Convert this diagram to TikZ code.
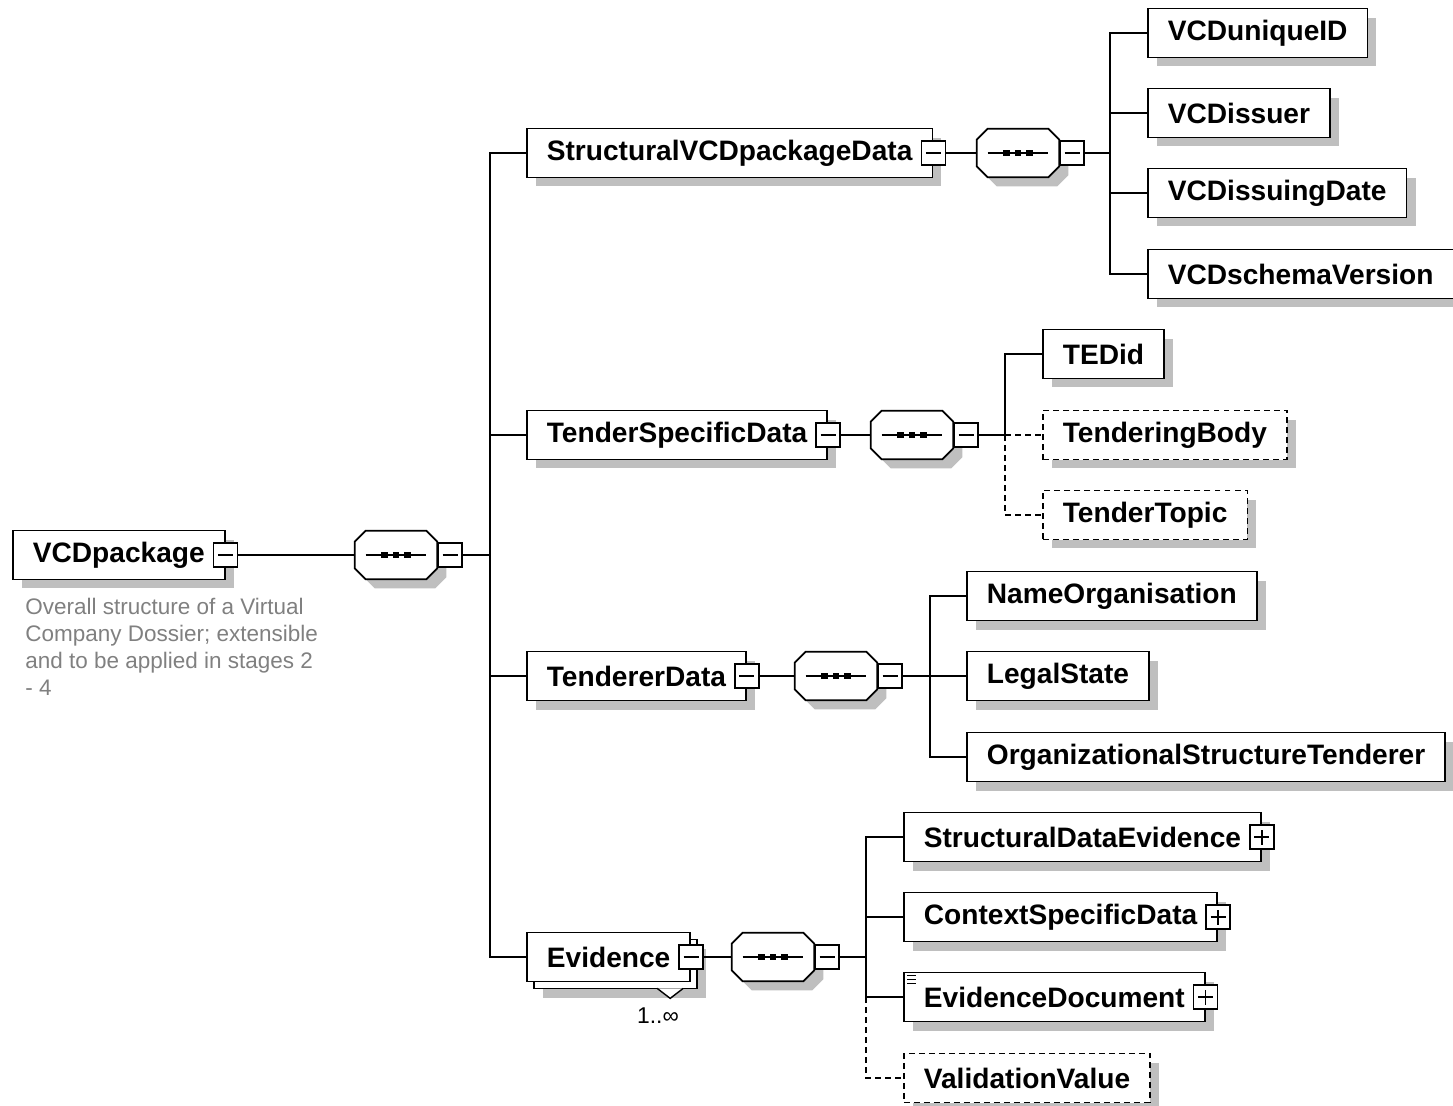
\documentclass[tikz,border=0pt]{standalone}
\usepackage{fontspec}
\setmainfont{Liberation Sans}
\usetikzlibrary{shadows}
\newcommand{\tg}{\hspace{0.22cm}}
% octagon round a node, chamfer 2.2mm
\newcommand{\octpath}[1]{([xshift=2.2mm]#1.north west) -- ([xshift=-2.2mm]#1.north east) -- ([yshift=-2.2mm]#1.north east) -- ([yshift=2.2mm]#1.south east) -- ([xshift=-2.2mm]#1.south east) -- ([xshift=2.2mm]#1.south west) -- ([yshift=2.2mm]#1.south west) -- ([yshift=-2.2mm]#1.north west) -- cycle}

\begin{document}
\begin{tikzpicture}[x=0.02cm,y=-0.02cm,
	box/.style={draw,fill=white,line width=1pt,anchor=west,minimum height=0.98cm,inner xsep=0.4cm,inner ysep=0pt,font=\fontsize{16}{19}\selectfont\bfseries},
	elem/.style={box,drop shadow={shadow xshift=0.18cm,shadow yshift=-0.18cm,fill=black!25,opacity=1}},
	optelem/.style={elem,dash pattern=on 3.4pt off 2.3pt},
	elemstack/.style={box,drop shadow={shadow xshift=0.32cm,shadow yshift=-0.32cm,fill=black!25,opacity=1},copy shadow={shadow xshift=0.14cm,shadow yshift=-0.14cm}},
	seq/.style={minimum width=1.64cm,minimum height=0.96cm,inner sep=0pt,
		append after command={\pgfextra{
			\fill[black!25,transform canvas={shift={(0.18cm,-0.18cm)}}] \octpath{\tikzlastnode};
			\draw[fill=white,line width=1pt] \octpath{\tikzlastnode};
			\draw[line width=1pt] ([xshift=2.2mm]\tikzlastnode.west) -- ([xshift=-2.2mm]\tikzlastnode.east);
			\foreach \d in {-2.3,0,2.3}
				\fill[black] ([shift={(\d mm-0.65mm,-0.65mm)}]\tikzlastnode.center) rectangle +(1.3mm,1.3mm);
		}}},
	toggle/.style={draw,fill=white,line width=0.9pt,minimum size=0.48cm,inner sep=0pt},
	collapse/.style={toggle,path picture={
			\draw[line width=0.9pt] ([xshift=0.09cm]path picture bounding box.west) -- ([xshift=-0.09cm]path picture bounding box.east);}},
	expand/.style={toggle,path picture={
			\draw[line width=0.9pt] ([xshift=0.09cm]path picture bounding box.west) -- ([xshift=-0.09cm]path picture bounding box.east);
			\draw[line width=0.9pt] ([yshift=0.09cm]path picture bounding box.south) -- ([yshift=-0.09cm]path picture bounding box.north);}},
	link/.style={line width=0.9pt},
	optlink/.style={link,dash pattern=on 3.4pt off 2.3pt}]
	\useasboundingbox (0,0) rectangle (1453,1105);

	% root
	\node[elem](vcd) at (12,555){VCDpackage\tg};
	\node[collapse](vcdT) at (vcd.east){};
	\node[seq](seq0) at (396,555){};
	\node[collapse,anchor=west](seq0T) at (seq0.east){};
	\coordinate(bus0) at (490,555);
	\node[anchor=north west,align=left,inner sep=0pt,text=black!50,font=\fontsize{12.8}{15.3}\selectfont](note) at (25,598){Overall structure of a Virtual\\Company Dossier; extensible\\and to be applied in stages 2\\- 4};

	% StructuralVCDpackageData
	\node[elem](svd) at (526,153){StructuralVCDpackageData\tg};
	\node[collapse](svdT) at (svd.east){};
	\node[seq](seq1) at (1018,153){};
	\node[collapse,anchor=west](seq1T) at (seq1.east){};
	\coordinate(bus1) at (1110,153);
	\node[elem](uid) at (1147,33){VCDuniqueID};
	\node[elem](iss) at (1147,113){VCDissuer};
	\node[elem](idate) at (1147,193){VCDissuingDate};
	\node[elem](ver) at (1147,274){VCDschemaVersion};

	% TenderSpecificData
	\node[elem](tsd) at (526,435){TenderSpecificData\tg};
	\node[collapse](tsdT) at (tsd.east){};
	\node[seq](seq2) at (912,435){};
	\node[collapse,anchor=west](seq2T) at (seq2.east){};
	\coordinate(bus2) at (1005,435);
	\node[elem](tedid) at (1042,354){TEDid};
	\node[optelem](tbody) at (1042,435){TenderingBody};
	\node[optelem](ttopic) at (1042,515){TenderTopic};

	% TendererData
	\node[elem](td) at (526,676){TendererData\tg};
	\node[collapse](tdT) at (td.east){};
	\node[seq](seq3) at (836,676){};
	\node[collapse,anchor=west](seq3T) at (seq3.east){};
	\coordinate(bus3) at (930,676);
	\node[elem](org) at (966,596){NameOrganisation};
	\node[elem](legal) at (966,676){LegalState};
	\node[elem](ost) at (966,757){OrganizationalStructureTenderer};

	% Evidence
	\node[elemstack](ev) at (526,957){Evidence\tg};
	\draw[line width=0.8pt,fill=white]([shift={(-34,6)}]ev.south east) -- ++(13,10) -- ++(13,-10);
	\node[collapse](evT) at (ev.east){};
	\node[font=\fontsize{13}{15.3}\selectfont](evmult) at (658,1016){1..∞};
	\node[seq](seq4) at (773,957){};
	\node[collapse,anchor=west](seq4T) at (seq4.east){};
	\coordinate(bus4) at (866,957);
	\node[elem](sde) at (903,837){StructuralDataEvidence\tg};
	\node[expand](sdeT) at (sde.east){};
	\node[elem](csd) at (903,917){ContextSpecificData\tg};
	\node[expand](csdT) at (csd.east){};
	\node[elem](edoc) at (903,997){EvidenceDocument\tg};
	\node[expand](edocT) at (edoc.east){};
	\foreach \k in {4,8,12}
		\draw[line width=0.5pt]([shift={(4,\k)}]edoc.north west) -- ++(9,0);
	\node[optelem](vval) at (903,1078){ValidationValue};

	% connectors
	\draw[link](vcdT.east) -- (seq0.west);
	\draw[link](seq0T.east) -- (bus0);
	\foreach \c in {svd,tsd,td,ev}
		\draw[link](bus0) |- (\c.west);
	\draw[link](svdT.east) -- (seq1.west);
	\draw[link](seq1T.east) -- (bus1);
	\foreach \c in {uid,iss,idate,ver}
		\draw[link](bus1) |- (\c.west);
	\draw[link](tsdT.east) -- (seq2.west);
	\draw[link](seq2T.east) -- (bus2);
	\draw[link](bus2) |- (tedid.west);
	\draw[optlink](bus2) -- (tbody.west);
	\draw[optlink](bus2) |- (ttopic.west);
	\draw[link](tdT.east) -- (seq3.west);
	\draw[link](seq3T.east) -- (bus3);
	\foreach \c in {org,legal,ost}
		\draw[link](bus3) |- (\c.west);
	\draw[link](evT.east) -- (seq4.west);
	\draw[link](seq4T.east) -- (bus4);
	\foreach \c in {sde,csd,edoc}
		\draw[link](bus4) |- (\c.west);
	\draw[optlink](edoc.west -| bus4) |- (vval.west);

\end{tikzpicture}
\end{document}
